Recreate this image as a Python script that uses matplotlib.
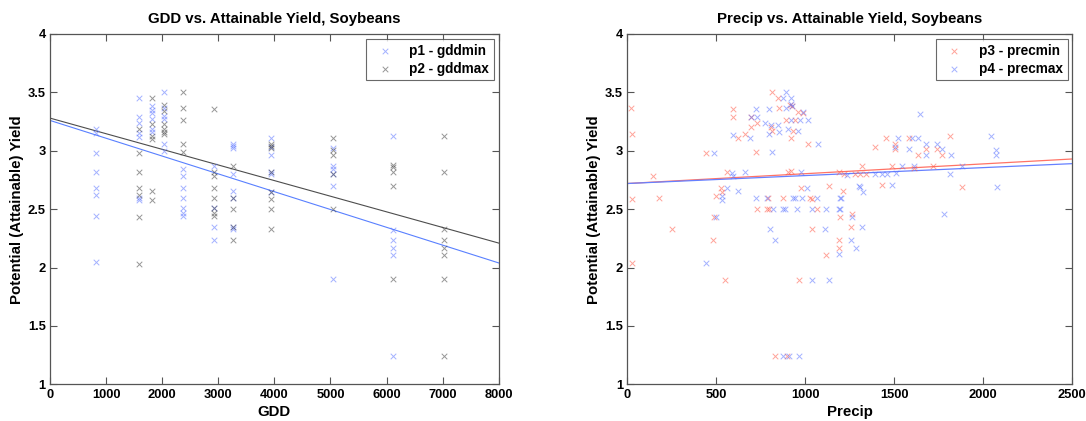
import matplotlib
matplotlib.use("Agg")
import matplotlib.pyplot as plt
import numpy as np

plt.rcParams['font.family'] = ['Liberation Sans', 'DejaVu Sans']
plt.rcParams['font.weight'] = 'bold'

# ---------------- GDD panel data ----------------
gdd_columns = [815, 1585, 1825, 2040, 2375, 2925, 3260, 3940, 5050, 6110, 7025]
p1_yield_by_col = [
    [3.19, 3.15, 2.98, 2.82, 2.68, 2.62, 2.44, 2.05],
    [3.45, 3.29, 3.24, 3.15, 3.12, 2.60, 2.58],
    [3.38, 3.35, 3.32, 3.27, 3.19, 3.16],
    [3.50, 3.37, 3.30, 3.27, 3.06, 3.00],
    [2.84, 2.78, 2.68, 2.60, 2.51, 2.47, 2.44],
    [2.87, 2.51, 2.35, 2.24],
    [3.06, 3.04, 3.02, 2.80, 2.66, 2.60, 2.35, 2.33],
    [3.11, 3.03, 2.96, 2.82, 2.80, 2.65],
    [3.02, 2.87, 2.84, 2.80, 2.70, 1.90],
    [3.13, 2.32, 2.24, 2.17, 2.11, 1.24],
    [],
]
p2_yield_by_col = [
    [],
    [3.19, 2.98, 2.82, 2.68, 2.62, 2.43, 2.03],
    [3.45, 3.23, 3.13, 3.10, 2.66, 2.58],
    [3.39, 3.34, 3.23, 3.19, 3.16, 3.14],
    [3.50, 3.37, 3.26, 3.06, 2.99],
    [3.36, 2.82, 2.78, 2.68, 2.60, 2.51, 2.47, 2.44],
    [2.87, 2.60, 2.50, 2.35, 2.24],
    [3.06, 3.04, 3.02, 2.82, 2.65, 2.59, 2.50, 2.33],
    [3.11, 3.01, 2.96, 2.80, 2.50],
    [2.88, 2.86, 2.82, 2.70, 1.90],
    [3.13, 2.82, 2.33, 2.24, 2.17, 2.11, 1.90, 1.24],
]
gdd_fit_x = [0, 8000]
p1_fit_y = [3.26, 2.04]
p2_fit_y = [3.28, 2.21]

# ---------------- Precip panel data ----------------
p3_precip = [811, 845, 596, 854, 914, 925, 592, 693, 890, 944, 960, 989, 730, 807, 693,
             815, 933, 622, 661, 918, 1017, 442, 723, 146, 562, 905, 918, 1189, 1220, 180,
             528, 530, 498, 978, 1135, 1210, 788, 876, 1026, 1040, 727, 783, 798, 1067, 487,
             1195, 1264, 249, 1036, 1255, 480, 1191, 1191, 1115, 549, 966, 830, 895,
             21, 24, 24, 24,
             1456, 1585, 1813, 1392, 1504, 1504, 1678, 1742, 1631, 1767, 1317, 1489, 1613,
             1716, 1278, 1306, 1340, 1430, 1880]
p3_yield = [3.50, 3.45, 3.36, 3.37, 3.39, 3.38, 3.29, 3.29, 3.26, 3.26, 3.33, 3.32, 3.235, 3.20, 3.20,
            3.17, 3.17, 3.11, 3.14, 3.11, 3.055, 2.98, 2.99, 2.78, 2.82, 2.82, 2.83, 2.82, 2.80, 2.60,
            2.68, 2.65, 2.61, 2.68, 2.70, 2.656, 2.60, 2.60, 2.60, 2.59, 2.50, 2.50, 2.50, 2.50, 2.43,
            2.43, 2.46, 2.33, 2.33, 2.35, 2.24, 2.24, 2.165, 2.11, 1.89, 1.89, 1.24, 1.24,
            3.37, 3.14, 2.59, 2.04,
            3.107, 3.107, 3.127, 3.03, 3.06, 3.013, 3.013, 3.013, 2.964, 2.964, 2.873, 2.873, 2.85,
            2.873, 2.80, 2.80, 2.80, 2.71, 2.693]

p4_precip = [890, 873, 918, 723, 796, 890, 920, 928, 730, 693, 918, 970, 1017, 985, 772,
             807, 847, 854, 905, 961, 592, 691, 798, 1073, 487, 811, 590, 595, 663, 976,
             1235, 562, 620, 530, 530, 1011, 1195, 1200, 1302, 723, 783, 931, 940, 983, 1067,
             820, 876, 885, 951, 1036, 1115, 1189, 1195, 498, 1264, 802, 1111, 830, 1257,
             1283, 1191, 442, 1036, 1135, 876, 908, 966,
             1644, 1523, 1598, 1635, 2045, 1504, 1585, 1678, 1742, 1767, 1678, 1819, 2071,
             2071, 1542, 1613, 1880, 1392, 1430, 1457, 1510, 1813, 1307, 1326, 1489, 2079,
             1781, 1320]
p4_yield = [3.50, 3.45, 3.45, 3.36, 3.36, 3.37, 3.40, 3.38, 3.29, 3.29, 3.26, 3.26, 3.26, 3.33, 3.235,
            3.22, 3.22, 3.16, 3.19, 3.17, 3.135, 3.11, 3.14, 3.055, 2.98, 2.99, 2.81, 2.78, 2.82, 2.82,
            2.79, 2.68, 2.656, 2.61, 2.58, 2.68, 2.60, 2.60, 2.70, 2.60, 2.60, 2.60, 2.60, 2.60, 2.60,
            2.50, 2.50, 2.50, 2.50, 2.50, 2.50, 2.50, 2.50, 2.43, 2.43, 2.33, 2.33, 2.24, 2.24,
            2.165, 2.114, 2.04, 1.89, 1.89, 1.24, 1.24, 1.24,
            3.315, 3.107, 3.107, 3.107, 3.127, 3.035, 3.013, 3.055, 3.055, 3.013, 2.964, 2.964, 3.01,
            2.96, 2.873, 2.873, 2.873, 2.80, 2.80, 2.80, 2.81, 2.80, 2.693, 2.65, 2.71, 2.693,
            2.459, 2.345]
precip_fit_x = [0, 2500]
p3_fit_y = [2.72, 2.93]
p4_fit_y = [2.72, 2.89]

# flatten GDD columns
p1_x, p1_y, p2_x, p2_y = [], [], [], []
for g, a, b in zip(gdd_columns, p1_yield_by_col, p2_yield_by_col):
    p1_x += [g] * len(a); p1_y += a
    p2_x += [g] * len(b); p2_y += b

BLUE = (0.35, 0.45, 1.0)
GRAY = (0.25, 0.25, 0.25)
RED = (1.0, 0.35, 0.28)
AXC = '#555555'
TICK_FS = 9.3
LAB_FS = 10.8
LEG_FS = 9.8

fig = plt.figure(figsize=(10.86, 4.21), dpi=100)
ax1 = fig.add_axes([50/1086, 1-384.4/421, 448.7/1086, 350.4/421])
ax2 = fig.add_axes([627.3/1086, 1-384.4/421, 445/1086, 350.4/421])

def style(ax, xmax, xticks, xlabel, title):
    ax.set_xlim(0, xmax)
    ax.set_ylim(1, 4)
    ax.set_xticks(xticks)
    ax.set_yticks([1, 1.5, 2, 2.5, 3, 3.5, 4])
    ax.set_yticklabels(['1', '1.5', '2', '2.5', '3', '3.5', '4'])
    ax.tick_params(direction='in', length=5, width=0.8, color=AXC, top=True, right=True,
                   labelsize=TICK_FS, pad=3)
    for lab in ax.get_xticklabels() + ax.get_yticklabels():
        lab.set_fontweight('bold')
    for s in ax.spines.values():
        s.set_color(AXC)
        s.set_linewidth(0.9)
    ax.set_xlabel(xlabel, fontsize=LAB_FS, fontweight='bold', labelpad=3)
    ax.set_ylabel('Potential (Attainable) Yield', fontsize=LAB_FS, fontweight='bold', labelpad=3)
    ax.set_title(title, fontsize=LAB_FS, fontweight='bold', pad=8)

ax1.scatter(p1_x, p1_y, marker='x', s=16, linewidths=0.7, color=BLUE, alpha=0.55,
            label='p1 - gddmin', zorder=3)
ax1.scatter(p2_x, p2_y, marker='x', s=16, linewidths=0.7, color=GRAY, alpha=0.55,
            label='p2 - gddmax', zorder=3)
ax1.plot(gdd_fit_x, p2_fit_y, color=(0.3, 0.3, 0.3), lw=0.8, zorder=2)
ax1.plot(gdd_fit_x, p1_fit_y, color=(0.35, 0.5, 1.0), lw=0.8, zorder=2)
style(ax1, 8000, list(range(0, 8001, 1000)), 'GDD', 'GDD vs. Attainable Yield, Soybeans')

ax2.scatter(p3_precip, p3_yield, marker='x', s=16, linewidths=0.7, color=RED, alpha=0.55,
            label='p3 - precmin', zorder=3)
ax2.scatter(p4_precip, p4_yield, marker='x', s=16, linewidths=0.7, color=BLUE, alpha=0.55,
            label='p4 - precmax', zorder=3)
ax2.plot(precip_fit_x, p3_fit_y, color=(1.0, 0.45, 0.4), lw=0.9, zorder=2)
ax2.plot(precip_fit_x, p4_fit_y, color=(0.4, 0.5, 1.0), lw=0.9, zorder=2)
style(ax2, 2500, [0, 500, 1000, 1500, 2000, 2500], 'Precip', 'Precip vs. Attainable Yield, Soybeans')

for ax in (ax1, ax2):
    leg = ax.legend(loc='upper right', frameon=True, fancybox=False,
                    borderaxespad=0.35, handletextpad=0.8, borderpad=0.35, labelspacing=0.3,
                    handlelength=2.0, prop={'weight': 'bold', 'size': LEG_FS})
    leg.get_frame().set_edgecolor('#444444')
    leg.get_frame().set_linewidth(0.8)

fig.savefig('out.png', dpi=100)
